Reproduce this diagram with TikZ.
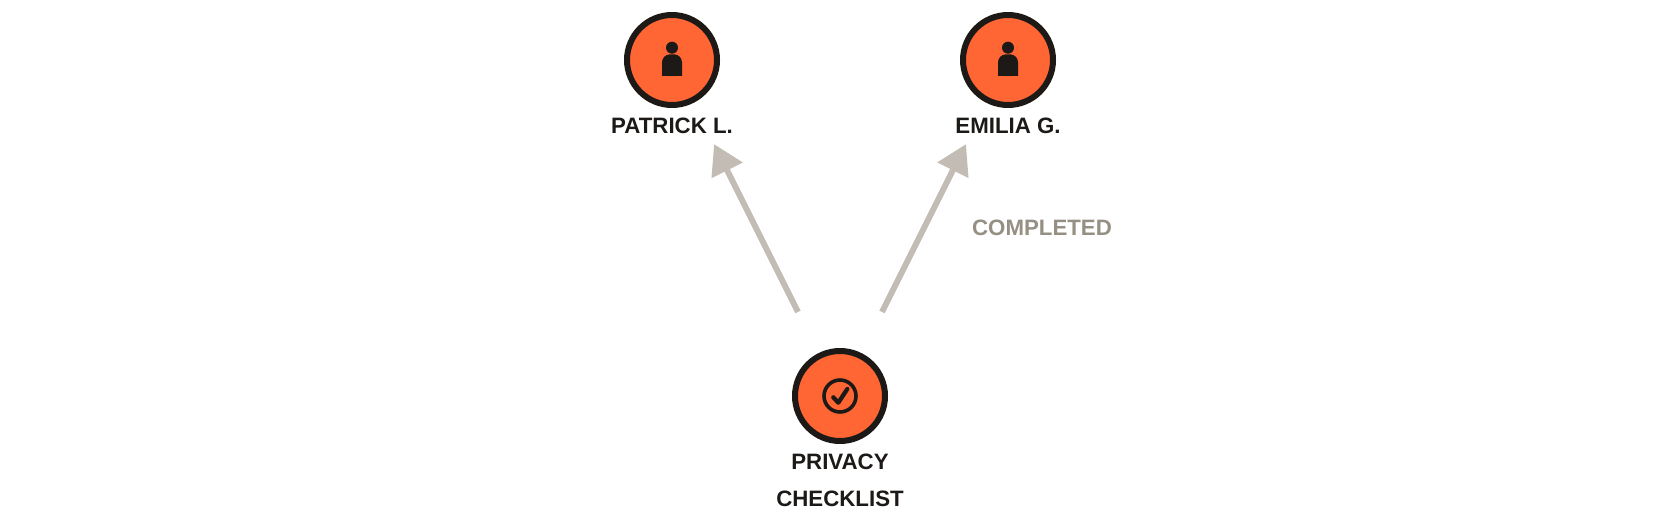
\documentclass[tikz,border=0pt]{standalone}
\usepackage{fontspec}
\setmainfont{Liberation Sans}
\usetikzlibrary{arrows.meta}
\definecolor{inkc}{HTML}{1C1917}
\definecolor{orangec}{HTML}{FF6633}
\definecolor{edgec}{HTML}{C2BCB4}
\definecolor{mutedc}{HTML}{968F84}
\tikzset{
  entity/.style={circle,draw=inkc,fill=orangec,line width=4.5pt,minimum size=67.5pt,inner sep=0pt,outer sep=0pt},
  title/.style={font=\bfseries\fontsize{16.7pt}{27.4pt}\selectfont,text=inkc,align=center,inner sep=0pt,outer sep=0pt},
  edgelabel/.style={font=\bfseries\fontsize{16.7pt}{20pt}\selectfont,text=mutedc,inner sep=0pt,outer sep=0pt},
  link/.style={draw=edgec,line width=4.5pt,shorten <=36.75pt,shorten >=36.75pt,
    -{Triangle[length=22pt,width=25pt]}},
  personicon/.pic={
    \fill[inkc] (0,-12.3) circle[radius=4.5pt];
    \fill[inkc] (-10,16) [rounded corners=6pt] -- (-10,-5.7) -- (10,-5.7) [sharp corners] -- (10,16) -- cycle;
  },
  checkicon/.pic={
    \draw[inkc,line width=2.7pt] (0,0) circle[radius=12pt];
    \draw[inkc,line width=3.2pt,line cap=round,line join=round] (-6.7,1.3) -- (-1.7,6.7) -- (7.3,-7);
  }
}
\begin{document}
\begin{tikzpicture}[x=0.75pt,y=-0.75pt]
\useasboundingbox (0,0) rectangle (1680,528);
\node[entity] (patrick) at (672,60) {};
\node[entity] (emilia) at (1008,60) {};
\node[entity] (check) at (840,396) {};
\pic at (patrick.center) {personicon};
\pic at (emilia.center) {personicon};
\pic at (check.center) {checkicon};
\node[title] (patricklabel) at (672,126) {PATRICK L.};
\node[title] (emilialabel) at (1008,126) {EMILIA G.};
\node[title] (checklabel) at (840,480.5) {PRIVACY\\CHECKLIST};
\draw[link] (check) -- (patrick);
\draw[link] (check) -- (emilia);
\node[edgelabel] (completed) at (1042,228) {COMPLETED};
\end{tikzpicture}
\end{document}
